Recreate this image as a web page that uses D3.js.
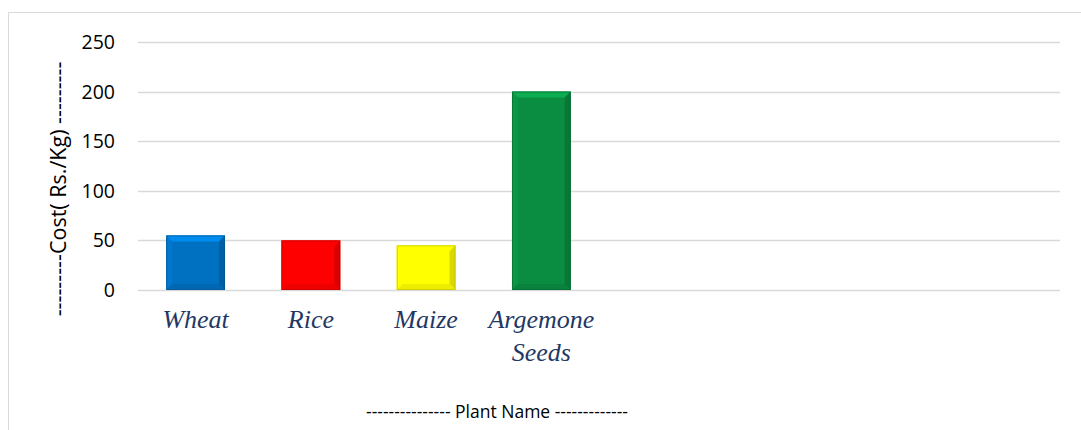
<!DOCTYPE html>
<html>
<head>
<meta charset="utf-8">
<script src="https://cdn.jsdelivr.net/npm/d3@7"></script>
<style>
  body { margin: 0; background: #fff; }
</style>
</head>
<body>
<svg id="chart" width="1081" height="430"></svg>
<script>
var categories = ['Wheat', 'Rice', 'Maize', 'Argemone Seeds', '', '', '', ''];
var costs = [55, 50, 45, 200];
var bar_colors = ['#0070c0', '#ff0000', '#ffff00', '#0a8c41'];
var y_ticks = [0, 50, 100, 150, 200, 250];

var svg = d3.select('#chart');
var margin = {left: 138, right: 1060, top: 42, bottom: 290};

// frame
svg.append('path')
  .attr('d', 'M8.5,430 L8.5,12.5 L1081,12.5')
  .attr('fill', 'none')
  .attr('stroke', '#d9d9d9')
  .attr('stroke-width', 1);

var slots = categories.map((d, i) => 'c' + i);
var x = d3.scaleBand()
  .domain(slots)
  .range([margin.left, margin.right])
  .paddingInner(0.49)
  .paddingOuter(0.245);

var y = d3.scaleLinear()
  .domain([0, 250])
  .range([margin.bottom, margin.top]);

// gridlines
svg.append('g')
  .selectAll('line')
  .data(y_ticks)
  .enter()
  .append('line')
  .attr('x1', margin.left)
  .attr('x2', margin.right)
  .attr('y1', d => Math.round(y(d)) + 0.5)
  .attr('y2', d => Math.round(y(d)) + 0.5)
  .attr('stroke', '#d9d9d9')
  .attr('stroke-width', 1.5);

// y tick labels
svg.append('g')
  .selectAll('text')
  .data(y_ticks)
  .enter()
  .append('text')
  .attr('x', 115)
  .attr('y', d => y(d) + 7)
  .attr('text-anchor', 'end')
  .style('font-family', '"Open Sans", sans-serif')
  .style('font-size', '19.5px')
  .style('fill', '#000')
  .text(d => d);

// bars with bevel
var bev = 6;
var bars = svg.append('g')
  .selectAll('g')
  .data(costs)
  .enter()
  .append('g');

bars.each(function(d, i){
  var g = d3.select(this);
  var x0 = x(slots[i]), x1 = x0 + x.bandwidth();
  var y0 = y(d), y1 = y(0);
  var base = d3.color(bar_colors[i]);
  g.append('rect')
    .attr('x', x0).attr('y', y0)
    .attr('width', x1 - x0).attr('height', y1 - y0)
    .attr('fill', base);
  var pts = function(a){ return a.map(p => p.join(',')).join(' '); };
  // top bevel (light)
  g.append('polygon')
    .attr('points', pts([[x0, y0], [x1, y0], [x1 - bev, y0 + bev], [x0 + bev, y0 + bev]]))
    .attr('fill', base.brighter(0.6));
  // left bevel
  g.append('polygon')
    .attr('points', pts([[x0, y0], [x0 + bev, y0 + bev], [x0 + bev, y1 - bev], [x0, y1]]))
    .attr('fill', base.brighter(0.2));
  // right bevel (dark)
  g.append('polygon')
    .attr('points', pts([[x1, y0], [x1, y1], [x1 - bev, y1 - bev], [x1 - bev, y0 + bev]]))
    .attr('fill', base.darker(0.45));
  // bottom bevel
  g.append('polygon')
    .attr('points', pts([[x0, y1], [x1, y1], [x1 - bev, y1 - bev], [x0 + bev, y1 - bev]]))
    .attr('fill', base.darker(0.2));
  g.append('rect')
    .attr('x', x0 + 0.5).attr('y', y0 + 0.5)
    .attr('width', x1 - x0 - 1).attr('height', y1 - y0 - 1)
    .attr('fill', 'none')
    .attr('stroke', base.darker(0.9))
    .attr('stroke-opacity', 0.6);
});

// category labels
var cat_labels = svg.append('g')
  .selectAll('text')
  .data(categories.filter(d => d !== ''))
  .enter()
  .append('text')
  .attr('x', (d, i) => x(slots[i]) + x.bandwidth() / 2)
  .attr('y', 328)
  .attr('text-anchor', 'middle')
  .style('font-family', '"Liberation Serif", "Times New Roman", serif')
  .style('font-style', 'italic')
  .style('font-size', '26px')
  .style('fill', '#1f3864');

cat_labels.each(function(d){
  var words = d.split(' ');
  var t = d3.select(this);
  words.forEach((w, k) => {
    t.append('tspan')
      .attr('x', t.attr('x'))
      .attr('dy', k === 0 ? 0 : 33)
      .text(w);
  });
});

// axis titles
svg.append('text')
  .attr('transform', 'translate(66,189) rotate(-90)')
  .attr('text-anchor', 'middle')
  .style('font-family', '"Open Sans", sans-serif')
  .style('font-size', '21.5px')
  .style('fill', '#000')
  .text('---------Cost( Rs./Kg) ---------');

svg.append('text')
  .attr('x', 497)
  .attr('y', 418)
  .attr('text-anchor', 'middle')
  .style('font-family', '"Open Sans", sans-serif')
  .style('font-size', '17.5px')
  .style('fill', '#000')
  .text('---------------  Plant Name -------------');
</script>
</body>
</html>
